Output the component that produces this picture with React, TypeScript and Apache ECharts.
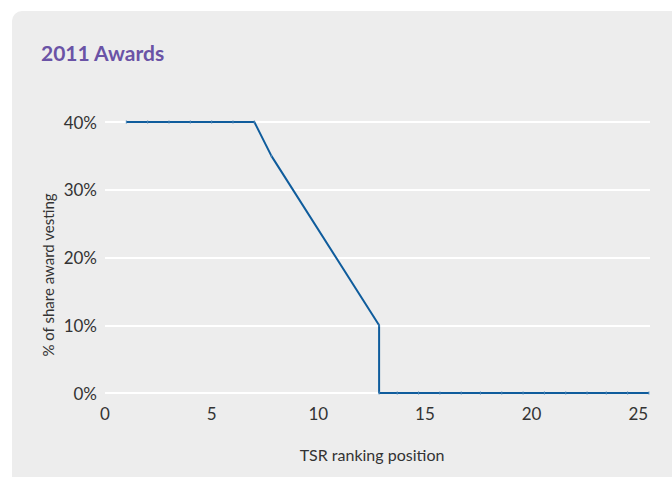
import React, { useEffect, useRef } from "react";
import * as echarts from "echarts";

const rankPositions: number[] = [1, 2, 3, 4, 5, 6, 7, 7.8, 12.85, 12.85, 13.7, 14.7, 15.7, 16.7, 17.6, 18.6, 19.6, 20.6, 21.6, 22.6, 23.5, 24.5, 25.5];
const vestingPct: number[] = [40, 40, 40, 40, 40, 40, 40, 35, 10, 0, 0, 0, 0, 0, 0, 0, 0, 0, 0, 0, 0, 0, 0];
const title = "2011 Awards";
const xAxisName = "TSR ranking position";
const yAxisName = "% of share award vesting";
const xTicks = { min: 0, max: 25.55, interval: 5 };
const yTicks = { min: 0, max: 40, interval: 10 };

const FONT = "Lato";

export default function App() {
  const ref = useRef<HTMLDivElement>(null);
  useEffect(() => {
    if (!ref.current) return;
    const chart = echarts.init(ref.current, undefined, { renderer: "svg" });
    const data = rankPositions.map((x, i) => [x, vestingPct[i]]);
    chart.setOption({
      animation: false,
      backgroundColor: "#ffffff",
      graphic: [
        {
          type: "rect",
          z: -10,
          silent: true,
          shape: { x: 12, y: 11, width: 680, height: 480, r: 10 },
          style: { fill: "#ededed" },
        },
        {
          type: "text",
          x: 41,
          y: 52,
          style: {
            text: title,
            fill: "#6a53a6",
            font: `bold 21px ${FONT}`,
            textVerticalAlign: "middle",
          },
        },
        {
          type: "text",
          x: 48,
          y: 275,
          rotation: Math.PI / 2,
          style: {
            text: yAxisName,
            fill: "#333333",
            font: `15px ${FONT}`,
            textAlign: "center",
            textVerticalAlign: "middle",
          },
        },
        {
          type: "text",
          x: 372,
          y: 454,
          style: {
            text: xAxisName,
            fill: "#333333",
            font: `16px ${FONT}`,
            textAlign: "center",
            textVerticalAlign: "middle",
          },
        },
      ],
      grid: { left: 105, right: 22, top: 122, bottom: 84, containLabel: false },
      xAxis: {
        type: "value",
        min: xTicks.min,
        max: xTicks.max,
        interval: xTicks.interval,
        axisLine: { show: false },
        axisTick: { show: false },
        splitLine: { show: false },
        axisLabel: {
          color: "#333333",
          fontFamily: FONT,
          fontSize: 17,
          margin: 12,
          showMaxLabel: false,
        },
      },
      yAxis: {
        type: "value",
        min: yTicks.min,
        max: yTicks.max,
        interval: yTicks.interval,
        axisLine: { show: false },
        axisTick: { show: false },
        splitLine: { show: true, lineStyle: { color: "#ffffff", width: 2 } },
        axisLabel: {
          color: "#333333",
          fontFamily: FONT,
          fontSize: 17,
          margin: 8,
          padding: [7, 0, 0, 0],
          formatter: "{value}%",
        },
      },
      series: [
        {
          type: "line",
          data,
          showSymbol: true,
          symbol: "rect",
          symbolSize: [1, 3],
          itemStyle: { color: "#4a86b8" },
          lineStyle: { color: "#0f5c9c", width: 2 },
          z: 5,
        },
      ],
    });
    return () => chart.dispose();
  }, []);
  return (
    <div style={{ position: "fixed", left: 0, top: 0, width: 672, height: 477 }}>
      <div ref={ref} style={{ width: 672, height: 477 }} />
    </div>
  );
}
